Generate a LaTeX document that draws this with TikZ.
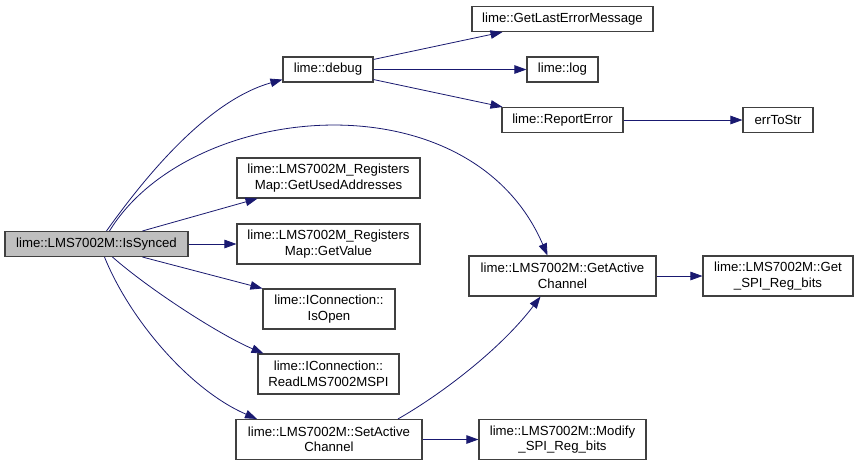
\documentclass[tikz,border=0pt]{standalone}
\usepackage{fontspec}
\setmainfont{Liberation Sans}
\usepackage{tikz}
\usetikzlibrary{arrows.meta, positioning}
\definecolor{edgeblue}{HTML}{191970}
\definecolor{frame}{HTML}{404040}
\definecolor{rootfill}{HTML}{BFBFBF}
\tikzset{
  fn/.style     ={draw=frame, line width=1.1pt, fill=white, inner sep=0pt,
                  align=center, minimum height=25pt,
                  font=\fontsize{13.2}{15.5}\selectfont},
  fntwo/.style  ={fn, minimum height=40pt},
  fnroot/.style ={fn, fill=rootfill},
  call/.style   ={-{Triangle[length=12pt,width=8.5pt]}, line width=0.8pt, draw=edgeblue}
}
\begin{document}
\begin{tikzpicture}[x=1pt, y=-1pt]
  \path[fill=white] (0,0) rectangle (859,466);
  \useasboundingbox (0,0) rectangle (859,466);

  % caller
  \node[fnroot, minimum width=183pt] (issynced) at (96.5,244) {lime::LMS7002M::IsSynced};

  % first level
  \node[fn, minimum width=90pt]     (debug)     at (328,69.5)  {lime::debug};
  \node[fntwo, minimum width=183pt] (usedaddr)  at (328.5,178) {lime::LMS7002M\_Registers\\Map::GetUsedAddresses};
  \node[fntwo, minimum width=183pt] (getvalue)  at (328.5,244) {lime::LMS7002M\_Registers\\Map::GetValue};
  \node[fntwo, minimum width=132pt] (isopen)    at (329,309)   {lime::IConnection::\\IsOpen};
  \node[fntwo, minimum width=141pt] (readspi)   at (328.5,374) {lime::IConnection::\\ReadLMS7002MSPI};
  \node[fntwo, minimum width=186pt] (setactive) at (329,439.5) {lime::LMS7002M::SetActive\\Channel};

  % second level
  \node[fn, minimum width=181pt]    (lasterr)   at (562.5,19)    {lime::GetLastErrorMessage};
  \node[fn, minimum width=71pt]     (log)       at (562.5,69.5)  {lime::log};
  \node[fn, minimum width=121pt]    (reporterr) at (562.5,120)   {lime::ReportError};
  \node[fntwo, minimum width=187pt] (getactive) at (562.5,276)   {lime::LMS7002M::GetActive\\Channel};
  \node[fntwo, minimum width=167pt] (modify)    at (562.5,439.5) {lime::LMS7002M::Modify\\\_SPI\_Reg\_bits};

  % third level
  \node[fn, minimum width=70pt]     (errtostr)  at (778,120) {errToStr};
  \node[fntwo, minimum width=150pt] (getspi)    at (778,276) {lime::LMS7002M::Get\\\_SPI\_Reg\_bits};

  % calls from IsSynced
  \draw[call] ([xshift=10pt]issynced.north) .. controls (150,170) and (210,100) .. ([yshift=3pt]debug.south west);
  \draw[call] ([xshift=13pt]issynced.north) .. controls (190,100) and (470,75) .. ([xshift=-15pt]getactive.north);
  \draw[call] ([xshift=46pt]issynced.north) -- ([xshift=-71pt]usedaddr.south);
  \draw[call] (issynced.east) -- (getvalue.west);
  \draw[call] ([xshift=46pt]issynced.south) -- (isopen.north west);
  \draw[call] ([xshift=16pt]issynced.south) .. controls (150,290) and (220,335) .. ([xshift=-65pt]readspi.north);
  \draw[call] ([xshift=8pt]issynced.south) .. controls (130,320) and (190,390) .. ([xshift=-72pt]setactive.north);

  % calls from debug
  \draw[call] ([yshift=-3pt]debug.north east) -- ([xshift=-60pt]lasterr.south);
  \draw[call] (debug.east) -- (log.west);
  \draw[call] ([yshift=3pt]debug.south east) -- ([xshift=-60pt]reporterr.north);
  \draw[call] (reporterr.east) -- (errtostr.west);

  % calls from SetActiveChannel / GetActiveChannel
  \draw[call] ([xshift=69pt]setactive.north) .. controls (440,395) and (500,350) .. ([xshift=-22pt]getactive.south);
  \draw[call] (setactive.east) -- (modify.west);
  \draw[call] (getactive.east) -- (getspi.west);
\end{tikzpicture}
\end{document}
